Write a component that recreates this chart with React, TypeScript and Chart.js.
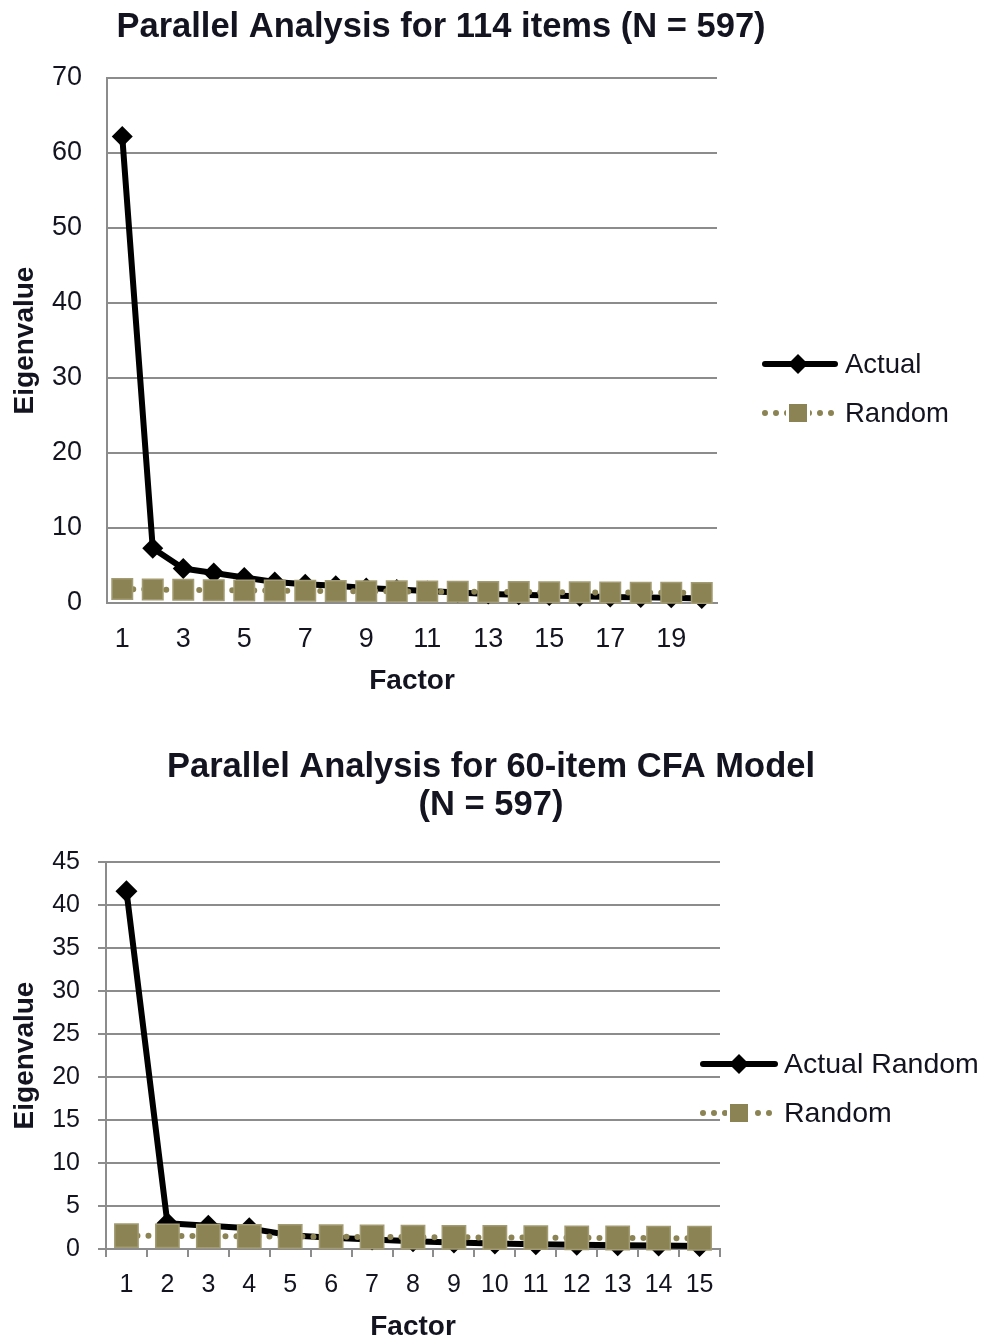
import React, { useEffect, useRef } from 'react';
import { Chart, registerables } from 'chart.js';

Chart.register(...registerables);

// ---------- data ----------
const factors1 = ['1', '2', '3', '4', '5', '6', '7', '8', '9', '10', '11', '12', '13', '14', '15', '16', '17', '18', '19', '20'];
const actual1 = [62.2, 7.3, 4.6, 4.0, 3.4, 2.8, 2.5, 2.3, 2.0, 1.8, 1.6, 1.4, 1.2, 1.1, 1.0, 0.9, 0.8, 0.75, 0.7, 0.6];
const random1 = [1.86, 1.8, 1.76, 1.71, 1.68, 1.65, 1.62, 1.6, 1.57, 1.55, 1.53, 1.5, 1.48, 1.46, 1.44, 1.42, 1.4, 1.38, 1.36, 1.34];
const yMax1 = 70;
const yStep1 = 10;
const title1 = ['Parallel Analysis for 114 items (N = 597)'];
const legend1 = ['Actual', 'Random'];

const factors2 = ['1', '2', '3', '4', '5', '6', '7', '8', '9', '10', '11', '12', '13', '14', '15'];
const actual2 = [41.6, 3.0, 2.7, 2.4, 1.6, 1.3, 1.1, 0.9, 0.75, 0.65, 0.55, 0.5, 0.45, 0.4, 0.35];
const random2 = [1.55, 1.52, 1.5, 1.47, 1.45, 1.42, 1.4, 1.38, 1.36, 1.34, 1.32, 1.3, 1.28, 1.27, 1.25];
const yMax2 = 45;
const yStep2 = 5;
const title2 = ['Parallel Analysis for 60-item CFA Model', '(N = 597)'];
const legend2 = ['Actual Random', 'Random'];

const xTitle = 'Factor';
const yTitle = 'Eigenvalue';

// ---------- styles ----------
const FONT = "'Liberation Sans', Arial, sans-serif";
const TXT = '#131420';
const GRID = '#8c8c8c';
const OLIVE = '#8b8354';
const OLIVE_EDGE = '#a39c72';

const decorPlugin = {
  id: 'decor',
  afterDraw(chart: any, _args: any, opts: any) {
    const ctx: CanvasRenderingContext2D = chart.ctx;
    ctx.save();
    ctx.fillStyle = TXT;
    ctx.textAlign = 'center';
    ctx.textBaseline = 'middle';
    ctx.font = `bold ${opts.titleSize}px ${FONT}`;
    (opts.titleLines as string[]).forEach((t, i) => ctx.fillText(t, opts.titleX, opts.titleY[i]));

    const ds = chart.data.datasets;
    (opts.legendLabels as string[]).forEach((label, i) => {
      const y = opts.legendY[i];
      const d = ds[i];
      ctx.save();
      if (i === 0) {
        ctx.strokeStyle = d.borderColor;
        ctx.lineWidth = 6;
        ctx.lineCap = 'round';
        ctx.beginPath();
        ctx.moveTo(opts.lineX0 + 3, y);
        ctx.lineTo(opts.lineX1 - 3, y);
        ctx.stroke();
        const r = opts.diamondR;
        ctx.fillStyle = d.pointBackgroundColor;
        ctx.beginPath();
        ctx.moveTo(opts.markX, y - r);
        ctx.lineTo(opts.markX + r, y);
        ctx.lineTo(opts.markX, y + r);
        ctx.lineTo(opts.markX - r, y);
        ctx.closePath();
        ctx.fill();
      } else {
        ctx.strokeStyle = d.borderColor;
        ctx.lineWidth = 6;
        ctx.lineCap = 'round';
        ctx.setLineDash([0, 11]);
        ctx.beginPath();
        ctx.moveTo(opts.lineX0 + 3, y);
        ctx.lineTo(opts.lineX1, y);
        ctx.stroke();
        ctx.setLineDash([]);
        const s = opts.squareS;
        ctx.fillStyle = '#fff';
        ctx.fillRect(opts.markX - s / 2 - 3, y - s / 2 - 3, s + 6, s + 6);
        ctx.fillStyle = d.pointBackgroundColor;
        ctx.fillRect(opts.markX - s / 2, y - s / 2, s, s);
      }
      ctx.restore();
      ctx.fillStyle = TXT;
      ctx.textAlign = 'left';
      ctx.textBaseline = 'middle';
      ctx.font = `${opts.legendSize}px ${FONT}`;
      ctx.fillText(label, opts.textX, y + 1);
    });
    ctx.restore();
  },
};

function buildConfig(p: any): any {
  return {
    type: 'line',
    data: {
      labels: p.labels,
      datasets: [
        {
          label: p.legend[0],
          data: p.actual,
          borderColor: '#000000',
          backgroundColor: '#000000',
          pointBackgroundColor: '#000000',
          pointBorderColor: '#000000',
          borderWidth: 6,
          borderJoinStyle: 'round',
          pointStyle: 'rectRot',
          pointRadius: p.diamondR,
          pointBorderWidth: 0,
          tension: 0,
          clip: false,
          order: 1,
        },
        {
          label: p.legend[1],
          data: p.random,
          borderColor: OLIVE,
          backgroundColor: OLIVE,
          pointBackgroundColor: OLIVE,
          pointBorderColor: OLIVE_EDGE,
          pointBorderWidth: 1.5,
          borderWidth: 6,
          borderDash: [0, 11],
          borderCapStyle: 'round',
          pointStyle: 'rect',
          pointRadius: p.squareR,
          tension: 0,
          clip: false,
          order: 0,
        },
      ],
    },
    options: {
      responsive: false,
      maintainAspectRatio: false,
      animation: false,
      events: [],
      layout: { padding: { left: 0, right: p.padRight, top: p.padTop, bottom: 0 } },
      plugins: {
        legend: { display: false },
        tooltip: { enabled: false },
        title: { display: false },
        decor: p.decor,
      },
      scales: {
        x: {
          type: 'category',
          offset: true,
          grid: p.xTicks
            ? { display: true, drawOnChartArea: false, drawTicks: true, tickLength: 8, tickColor: GRID, tickWidth: 2, color: GRID, lineWidth: 2, offset: true }
            : { display: false },
          border: { display: true, color: GRID, width: 2 },
          ticks: {
            autoSkip: false,
            maxRotation: 0,
            minRotation: 0,
            padding: p.xTickPad,
            color: TXT,
            font: { family: FONT, size: p.tickSize },
            callback: (_v: any, i: number) => (i % p.labelEvery === 0 ? p.labels[i] : ''),
          },
          title: {
            display: true,
            text: xTitle,
            color: TXT,
            font: { family: FONT, size: 28, weight: 'bold' },
            padding: { top: 0, bottom: p.xTitlePadBottom },
          },
          afterFit: (s: any) => {
            s.height = p.xHeight;
          },
        },
        y: {
          min: 0,
          max: p.yMax,
          ticks: {
            stepSize: p.yStep,
            padding: p.yTickPad,
            color: TXT,
            font: { family: FONT, size: p.tickSize },
          },
          grid: {
            color: GRID,
            lineWidth: 2,
            drawTicks: p.yTicks,
            tickLength: 8,
            tickColor: GRID,
            tickWidth: 2,
          },
          border: { display: true, color: GRID, width: 2 },
          title: {
            display: true,
            text: yTitle,
            color: TXT,
            font: { family: FONT, size: 28, weight: 'bold' },
            padding: { top: 8, bottom: 0 },
          },
          afterFit: (s: any) => {
            s.width = p.yWidth;
          },
        },
      },
    },
    plugins: [decorPlugin],
  };
}

const W = 989;
const H1 = 720;
const H2 = 621;

export default function App() {
  const ref1 = useRef<HTMLCanvasElement | null>(null);
  const ref2 = useRef<HTMLCanvasElement | null>(null);

  useEffect(() => {
    const c1 = new Chart(
      ref1.current as HTMLCanvasElement,
      buildConfig({
        labels: factors1,
        actual: actual1,
        random: random1,
        legend: legend1,
        yMax: yMax1,
        yStep: yStep1,
        diamondR: 10.5,
        squareR: 14.5,
        padRight: W - 717,
        padTop: 78,
        xTicks: false,
        yTicks: false,
        xTickPad: 12,
        tickSize: 27,
        labelEvery: 2,
        xTitlePadBottom: 22,
        xHeight: H1 - 603,
        yTickPad: 25,
        yWidth: 107,
        decor: {
          titleLines: title1,
          titleX: 441,
          titleY: [27],
          titleSize: 34.5,
          legendLabels: legend1,
          legendY: [364, 413],
          lineX0: 762,
          lineX1: 838,
          markX: 798,
          textX: 845,
          diamondR: 10,
          squareS: 18,
          legendSize: 27.5,
        },
      })
    );
    const c2 = new Chart(
      ref2.current as HTMLCanvasElement,
      buildConfig({
        labels: factors2,
        actual: actual2,
        random: random2,
        legend: legend2,
        yMax: yMax2,
        yStep: yStep2,
        diamondR: 11,
        squareR: 16.5,
        padRight: W - 720,
        padTop: 142,
        xTicks: true,
        yTicks: true,
        xTickPad: 13,
        tickSize: 25,
        labelEvery: 1,
        xTitlePadBottom: -3,
        xHeight: H2 - 529,
        yTickPad: 18,
        yWidth: 106,
        decor: {
          titleLines: title2,
          titleX: 491,
          titleY: [47, 85],
          titleSize: 34.5,
          legendLabels: legend2,
          legendY: [344, 393],
          lineX0: 700,
          lineX1: 778,
          markX: 739,
          textX: 784,
          diamondR: 10,
          squareS: 18,
          legendSize: 28.5,
        },
      })
    );
    return () => {
      c1.destroy();
      c2.destroy();
    };
  }, []);

  return (
    <div style={{ position: 'absolute', left: 0, top: 0, width: W, height: H1 + H2, background: '#ffffff' }}>
      <canvas ref={ref1} width={W} height={H1} style={{ display: 'block', width: W, height: H1 }} />
      <canvas ref={ref2} width={W} height={H2} style={{ display: 'block', width: W, height: H2 }} />
    </div>
  );
}
